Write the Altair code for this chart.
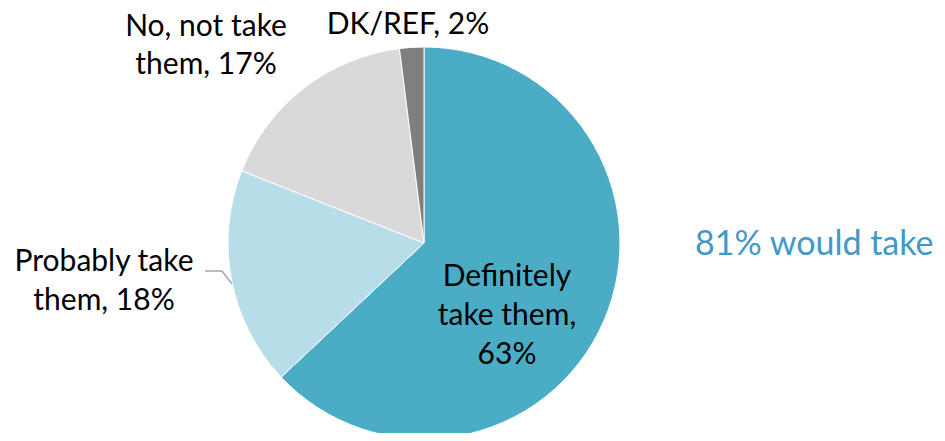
import altair as alt
import pandas as pd

categories = ["Definitely take them", "Probably take them", "No, not take them", "DK/REF"]
values = [63, 18, 17, 2]
colors = ["#4BACC6", "#B7DDE8", "#D9D9D9", "#7F7F7F"]

df = pd.DataFrame({"category": categories, "value": values, "order": list(range(len(values)))})

W, H = 929, 425
CX, CY, R = 416, 235, 196
FONT = "Lato"
FS = 30

pie = alt.Chart(df).mark_arc(radius=R, stroke="white", strokeWidth=1).encode(
    theta=alt.Theta("value:Q", stack=True),
    order=alt.Order("order:Q"),
    color=alt.Color("category:N", scale=alt.Scale(domain=categories, range=colors), legend=None),
    x=alt.value(CX), y=alt.value(CY),
)

def label(text, x, y, color="#000000", align="center", fs=FS, lh=39):
    return alt.Chart(pd.DataFrame({"t": [text]})).mark_text(
        font=FONT, fontSize=fs, color=color, align=align, baseline="middle",
        lineBreak="\n", lineHeight=lh
    ).encode(text="t:N", x=alt.value(x), y=alt.value(y))

labels = [
    label("No, not take\nthem, 17%", 198, 19, lh=38),
    label("DK/REF, 2%", 400, 17),
    label("Probably take\nthem, 18%", 96, 254),
    label("Definitely\ntake them,\n63%", 499, 269),
    label("81% would take", 687, 237, color="#4199C8", align="left", fs=34),
]

leader1 = alt.Chart(pd.DataFrame({"a": [0]})).mark_rule(color="#A6A6A6", strokeWidth=1.5).encode(
    x=alt.value(197), x2=alt.value(214), y=alt.value(263), y2=alt.value(263))
leader2 = alt.Chart(pd.DataFrame({"a": [0]})).mark_rule(color="#A6A6A6", strokeWidth=1.5).encode(
    x=alt.value(214), x2=alt.value(224), y=alt.value(263), y2=alt.value(276))

chart = alt.layer(pie, leader1, leader2, *labels).properties(
    width=W, height=H, autosize=alt.AutoSizeParams(type="none"), padding=0
).configure_view(stroke=None)

chart.save("out.html", embed_options={"renderer": "svg", "actions": False})
